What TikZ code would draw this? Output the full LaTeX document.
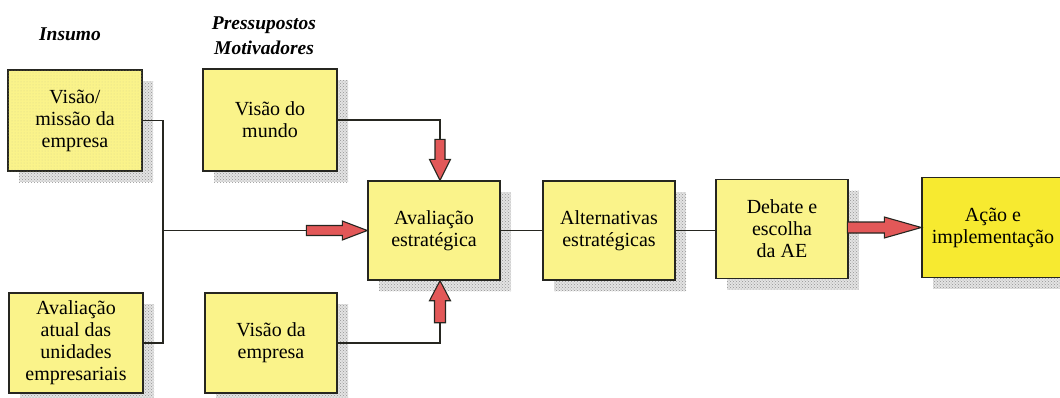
\documentclass[tikz,border=0pt]{standalone}
\usepackage{fontspec}
\setmainfont{LiberationSerif}[Extension=.ttf, UprightFont=*-Regular, BoldFont=*-Bold,
  ItalicFont=*-Italic, BoldItalicFont=*-BoldItalic]
\usetikzlibrary{calc,patterns,shadows}

\definecolor{boxyellow}{RGB}{250,243,138}
\definecolor{actyellow}{RGB}{247,234,48}
\definecolor{arrowred}{RGB}{226,88,88}
\definecolor{edgecol}{RGB}{38,38,32}

\tikzset{
  stepbox/.style={draw=edgecol, line width=1.4pt, fill=boxyellow,
    minimum width=133pt, minimum height=100pt, inner sep=2pt, align=center,
    font=\rmfamily\fontsize{20}{22}\selectfont,
    drop shadow={shadow xshift=11pt, shadow yshift=-11pt, opacity=1,
      fill=gray!22, postaction={pattern=crosshatch dots, pattern color=gray!85}}},
  grainy/.style={postaction={pattern=dots, pattern color=olive!30}},
  heading/.style={align=center, inner sep=0pt,
    font=\rmfamily\fontsize{19.5}{25}\selectfont\bfseries\itshape},
  conn/.style={draw=edgecol, line width=1.2pt},
  redarrow/.style={draw=edgecol, line width=1.1pt, fill=arrowred, line join=miter},
}

% block arrow: tip, direction angle, total length, shaft half width, head half width, head length
\newcommand\blockarrow[6]{%
  \begin{scope}[shift={(#1)}, rotate=#2]
    \draw[redarrow] (0,0) -- (-#6,#5) -- (-#6,#4) -- (-#3,#4)
      -- (-#3,-#4) -- (-#6,-#4) -- (-#6,-#5) -- cycle;
  \end{scope}}

\begin{document}
\begin{tikzpicture}[x=1pt, y=-1pt]
  \useasboundingbox (0,0) rectangle (1060,397);
  \clip (0,0) rectangle (1060,397);

  % column headings
  \node[heading] (hIns) at (70,34) {Insumo};
  \node[heading] (hPres) at (264,36) {Pressupostos\\Motivadores};

  % boxes
  \node[stepbox, grainy, minimum width=134pt, minimum height=101pt] (vm) at (75,120.5) {Visão/\\missão da\\empresa};
  \node[stepbox, minimum width=134pt, minimum height=102pt] (vw) at (270,120) {Visão do\\mundo};
  \node[stepbox, minimum width=134pt] (au) at (76,343) {Avaliação\\atual das\\unidades\\empresariais};
  \node[stepbox, minimum width=132pt] (ve) at (271,343) {Visão da\\empresa};
  \node[stepbox, minimum width=132pt, minimum height=99pt] (ev) at (434,230.5) {Avaliação\\estratégica};
  \node[stepbox, minimum width=132pt, minimum height=99pt] (alt) at (609,230.5) {Alternativas\\estratégicas};
  \node[stepbox, minimum width=132pt, minimum height=99pt] (deb) at (782,229) {Debate e\\escolha\\da AE};
  \node[stepbox, fill=actyellow, minimum width=142pt, minimum height=100pt] (act) at (993,227.5) {Ação e\\implementação};

  % junction and arrow anchor points
  \coordinate (jx) at (163,0);
  \coordinate (j) at (jx |- ev.west);
  \coordinate (leftTail) at ($(ev.west)+(-61,0)$);
  \coordinate (topTip) at ($(ev.north)+(6,0)$);
  \coordinate (topTail) at ($(topTip)+(0,-41)$);
  \coordinate (botTip) at ($(ev.south)+(6,0)$);
  \coordinate (botTail) at ($(botTip)+(0,42)$);

  % connectors
  \draw[conn] (vm.east) -| (j) |- (au.east);
  \draw[conn] (j) -- (leftTail);
  \draw[conn] (vw.east) -| (topTail);
  \draw[conn] (ve.east) -| (botTail);
  \draw[conn] (ev.east) -- (alt.west);
  \draw[conn] (alt.east) -- (alt.east -| deb.west);

  % red block arrows
  \blockarrow{ev.west}{0}{61}{5}{9.5}{25}
  \blockarrow{topTip}{-90}{41}{5}{10.5}{21}
  \blockarrow{botTip}{90}{42}{5.5}{10.5}{20}
  \blockarrow{act.west}{0}{74}{5.5}{10.5}{37}
\end{tikzpicture}
\end{document}
